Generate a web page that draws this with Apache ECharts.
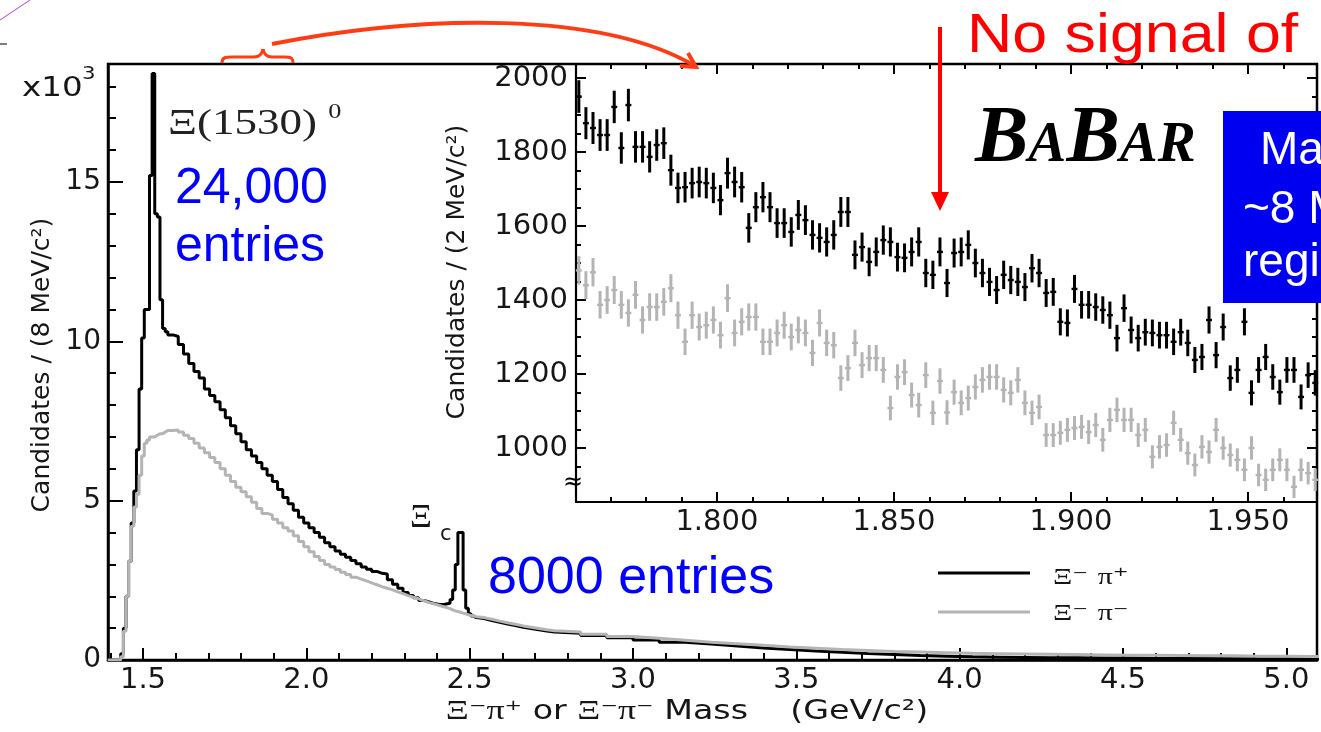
<!DOCTYPE html>
<html>
<head>
<meta charset="utf-8">
<script src="https://cdn.jsdelivr.net/npm/echarts@6/dist/echarts.min.js"></script>
<style>
  html, body { margin: 0; padding: 0; background: #ffffff; }
  #chart { width: 1321px; height: 732px; }
</style>
</head>
<body>
<div id="chart"></div>
<script>
// ---- Main spectrum: bin low edges (GeV/c^2) and contents (x10^3 candidates / 8 MeV) ----
const mainBinEdges = [
  1.392,
  1.424,1.432,1.440,1.448,1.456,1.464,1.472,1.480,1.488,1.496,1.504,1.512,1.520,1.528,1.536,1.544,1.552,1.560,1.568,
  1.576,1.592,1.608,1.624,1.640,1.656,1.672,1.688,1.704,1.720,1.736,1.752,1.768,1.784,1.800,1.816,1.832,1.848,1.864,1.880,
  1.896,1.912,1.928,1.944,1.960,1.976,1.992,2.008,2.024,2.040,2.056,2.072,2.088,2.104,2.120,2.136,2.152,2.168,2.184,2.200,
  2.216,2.232,2.248,2.264,2.280,2.296,2.312,2.328,2.344,2.360,2.376,2.392,2.408,2.424,
  2.440,2.448,2.456,2.464,2.472,2.480,2.488,2.496,2.504,2.512,
  2.520,2.544,2.568,2.592,2.616,2.640,2.664,2.688,2.712,2.736,
  2.760,2.840,2.920,3.000,3.080,3.160,3.240,3.320,3.400,3.480,3.560,3.640,3.720,3.800,3.880,
  3.960,4.040,4.120,4.200,4.280,4.360,4.440,4.520,4.600,4.680,4.760,4.840,4.920,5.000,5.080
];
const mainUpperEdge = 5.12;

// Xi- pi+ (right-sign) candidates
const xiPiPlus = [
  0,
  0,0.2,1.0,2.0,3.1,4.3,5.3,6.6,8.5,10.1,11.0,11.0,15.2,18.4,14.0,13.9,11.3,10.4,10.3,
  10.2,10.15,9.9,9.6,9.3,9.05,8.85,8.5,8.3,8.1,7.85,7.6,7.35,7.1,6.85,6.6,6.4,6.2,6.0,5.8,
  5.6,5.35,5.1,4.9,4.7,4.48,4.3,4.15,4.0,3.85,3.68,3.55,3.42,3.32,3.22,3.12,3.02,2.92,2.85,2.78,
  2.72,2.7,2.52,2.38,2.25,2.12,2.02,1.95,1.87,1.82,1.77,1.74,1.75,1.78,
  1.9,2.2,3.0,4.0,4.0,2.2,1.62,1.45,1.38,1.33,
  1.3,1.24,1.18,1.13,1.08,1.03,0.99,0.95,0.91,0.88,
  0.84,0.77,0.7,0.63,0.56,0.5,0.44,0.38,0.33,0.28,0.24,0.2,0.17,0.14,0.12,
  0.1,0.09,0.08,0.07,0.07,0.06,0.06,0.05,0.05,0.05,0.04,0.04,0.04,0.03,0.03
];

// Xi- pi- (wrong-sign) candidates
const xiPiMinus = [
  0,
  0,0.1,0.9,2.0,3.1,4.2,4.8,5.2,5.8,6.4,6.8,6.9,7.0,7.0,7.05,7.1,7.1,7.15,7.2,
  7.2,7.22,7.15,7.05,6.95,6.8,6.65,6.5,6.35,6.2,6.0,5.8,5.6,5.42,5.28,5.12,4.95,4.75,4.6,4.55,
  4.42,4.3,4.15,4.05,3.9,3.72,3.55,3.4,3.25,3.12,3.0,2.92,2.84,2.75,2.68,2.6,2.54,2.48,2.42,2.36,
  2.3,2.25,2.2,2.14,2.08,2.02,1.97,1.92,1.86,1.8,1.76,1.71,1.66,1.61,
  1.57,1.54,1.52,1.5,1.47,1.45,1.42,1.4,1.38,1.36,
  1.33,1.28,1.22,1.17,1.12,1.07,1.03,0.99,0.95,0.92,
  0.88,0.81,0.74,0.68,0.62,0.56,0.51,0.46,0.41,0.37,0.33,0.3,0.27,0.25,0.23,
  0.21,0.2,0.19,0.18,0.17,0.16,0.15,0.15,0.14,0.13,0.13,0.12,0.12,0.11,0.11
];

// ---- Inset: 2 MeV bins from 1.760 GeV/c^2 (candidates per bin) ----
const insetBinStart = 1.760;
const insetBinWidth = 0.002;
const insetXiPiPlus = [
  1950,1878,1865,1846,1846,1922,1811,1927,1814,1814,
  1787,1819,1824,1751,1703,1705,1716,1719,1716,1703,
  1670,1743,1719,1705,1595,1651,1678,1651,1608,1608,
  1584,1630,1616,1576,1568,1557,1576,1638,1638,1522,
  1543,1503,1530,1562,1557,1516,1514,1530,1557,1473,
  1468,1530,1446,1527,1530,1549,1500,1473,1449,1427,
  1468,1454,1449,1435,1486,1473,1419,1422,1341,1338,
  1430,1387,1387,1381,1373,1359,1297,1378,1319,1297,
  1313,1311,1305,1305,1287,1313,1284,1238,1246,1346,
  1251,1327,1189,1211,1341,1149,1211,1246,1192,1151,
  1211,1211,1138,1197,1176
];
const insetXiPiMinus = [
  1480,1440,1475,1387,1400,1427,1387,1365,1414,1346,
  1381,1381,1395,1432,1359,1287,1359,1327,1332,1346,
  1305,1405,1311,1341,1354,1354,1287,1287,1311,1332,
  1300,1319,1311,1257,1338,1284,1278,1189,1216,1284,
  1224,1243,1243,1211,1108,1192,1205,1143,1116,1197,
  1095,1181,1096,1151,1122,1135,1165,1184,1192,1192,
  1157,1149,1184,1122,1095,1111,1035,1035,1041,1049,
  1054,1057,1043,1062,1022,1076,1103,1076,1076,1035,
  1049,976,1003,1008,1068,1022,986,954,1003,989,
  1049,1000,981,968,941,1000,927,914,941,968,
  941,895,941,932,914
];

// ---- Tick labels ----
const mainXLabels = [1.5, 2.0, 2.5, 3.0, 3.5, 4.0, 4.5, 5.0];
const mainYLabels = [0, 5, 10, 15];
const insetXLabels = [1.80, 1.85, 1.90, 1.95];
const insetYLabels = [1000, 1200, 1400, 1600, 1800, 2000];

// minor tick positions
const mainXMinor = [];
for (let k = 14; k <= 51; k++) mainXMinor.push(k / 10);
const mainYMinor = [];
for (let k = 0; k <= 18; k++) mainYMinor.push(k);
const insetXMinor = [];
for (let k = 176; k <= 197; k++) insetXMinor.push(k / 100);
const insetYMinor = [];
for (let k = 950; k <= 2000; k += 50) insetYMinor.push(k);

// ---- Build series data ----
function stepData(edges, vals, upper) {
  const n = Math.min(edges.length, vals.length);
  const out = [];
  for (let i = 0; i < n; i++) out.push([edges[i], vals[i]]);
  out.push([upper, vals[n - 1]]);
  return out;
}
function pointData(vals) {
  return vals.map((v, i) => [insetBinStart + (i + 0.5) * insetBinWidth, v]);
}

const INK = '#161616';
const GREY = '#b4b4b4';

// statistical error bar (sqrt N) with a short horizontal mark at the bin content
function errorBars(color) {
  return function (params, api) {
    const m = api.value(0), n = api.value(1), e = Math.sqrt(n);
    const top = api.coord([m, n + e]);
    const bot = api.coord([m, n - e]);
    const l = api.coord([m - insetBinWidth * 0.42, n]);
    const r = api.coord([m + insetBinWidth * 0.42, n]);
    return {
      type: 'group',
      children: [
        { type: 'line', shape: { x1: top[0], y1: top[1], x2: bot[0], y2: bot[1] },
          style: { stroke: color, lineWidth: 3 } },
        { type: 'line', shape: { x1: l[0], y1: l[1], x2: r[0], y2: r[1] },
          style: { stroke: color, lineWidth: 2.4 } }
      ]
    };
  };
}

const tickFont = { fontFamily: 'DejaVu Sans', color: INK };

function valueAxis(extra) {
  return Object.assign({
    type: 'value',
    splitLine: { show: false },
    axisLine: { show: false, onZero: false },
    axisTick: { show: false },
    axisLabel: { show: false }
  }, extra);
}

const MAIN_X = { min: 1.3929, max: 5.094 };
const MAIN_Y = { min: 0, max: 18.7 };
const INS_X = { min: 1.7602, max: 1.9695 };
const INS_Y = { min: 854, max: 2038 };

const xAxes = [
  // main, major
  valueAxis(Object.assign({ gridIndex: 0, position: 'bottom',
    axisLine: { show: true, onZero: false, lineStyle: { color: '#000', width: 2.5 } },
    axisTick: { show: true, inside: true, length: 12, customValues: mainXLabels, lineStyle: { color: '#000', width: 2 } },
    axisLabel: { show: true, customValues: mainXLabels, formatter: v => Number(v).toFixed(1),
      fontSize: 29, margin: 6, ...tickFont } }, MAIN_X)),
  // main, minor
  valueAxis(Object.assign({ gridIndex: 0, position: 'bottom',
    axisTick: { show: true, inside: true, length: 7, customValues: mainXMinor, lineStyle: { color: '#000', width: 2 } } }, MAIN_X)),
  // inset bottom, major
  valueAxis(Object.assign({ gridIndex: 1, position: 'bottom',
    axisLine: { show: true, onZero: false, lineStyle: { color: '#000', width: 2.2 } },
    axisTick: { show: true, inside: true, length: 10, customValues: insetXLabels, lineStyle: { color: '#000', width: 2 } },
    axisLabel: { show: true, customValues: insetXLabels, formatter: v => Number(v).toFixed(3),
      fontSize: 29, margin: 6, ...tickFont } }, INS_X)),
  // inset bottom, minor
  valueAxis(Object.assign({ gridIndex: 1, position: 'bottom',
    axisTick: { show: true, inside: true, length: 5, customValues: insetXMinor, lineStyle: { color: '#000', width: 2 } } }, INS_X)),
  // inset top, major
  valueAxis(Object.assign({ gridIndex: 1, position: 'top',
    axisTick: { show: true, inside: true, length: 10, customValues: insetXLabels, lineStyle: { color: '#000', width: 2 } } }, INS_X)),
  // inset top, minor
  valueAxis(Object.assign({ gridIndex: 1, position: 'top',
    axisTick: { show: true, inside: true, length: 5, customValues: insetXMinor, lineStyle: { color: '#000', width: 2 } } }, INS_X))
];

const yAxes = [
  // main, major
  valueAxis(Object.assign({ gridIndex: 0, position: 'left',
    axisLine: { show: true, onZero: false, lineStyle: { color: '#000', width: 2.5 } },
    axisTick: { show: true, inside: true, length: 15, customValues: mainYLabels, lineStyle: { color: '#000', width: 2 } },
    axisLabel: { show: true, customValues: mainYLabels, formatter: v => String(v),
      fontSize: 28, margin: 7, ...tickFont } }, MAIN_Y)),
  // main, minor
  valueAxis(Object.assign({ gridIndex: 0, position: 'left',
    axisTick: { show: true, inside: true, length: 8, customValues: mainYMinor, lineStyle: { color: '#000', width: 2 } } }, MAIN_Y)),
  // inset left, major
  valueAxis(Object.assign({ gridIndex: 1, position: 'left',
    axisLine: { show: true, onZero: false, lineStyle: { color: '#000', width: 2.2 } },
    axisTick: { show: true, inside: true, length: 10, customValues: insetYLabels, lineStyle: { color: '#000', width: 2 } },
    axisLabel: { show: true, customValues: insetYLabels, formatter: v => String(Math.round(v)),
      fontSize: 29, margin: 8, ...tickFont } }, INS_Y)),
  // inset left, minor
  valueAxis(Object.assign({ gridIndex: 1, position: 'left',
    axisTick: { show: true, inside: true, length: 5, customValues: insetYMinor, lineStyle: { color: '#000', width: 2 } } }, INS_Y)),
  // inset right, major
  valueAxis(Object.assign({ gridIndex: 1, position: 'right',
    axisTick: { show: true, inside: true, length: 10, customValues: insetYLabels, lineStyle: { color: '#000', width: 2 } } }, INS_Y)),
  // inset right, minor
  valueAxis(Object.assign({ gridIndex: 1, position: 'right',
    axisTick: { show: true, inside: true, length: 5, customValues: insetYMinor, lineStyle: { color: '#000', width: 2 } } }, INS_Y))
];

// ---- Annotation helpers ----
function label(x, y, text, style, extra) {
  return Object.assign({
    type: 'text', x: x, y: y, z: 20,
    style: Object.assign({ text: text, fill: INK, fontFamily: 'DejaVu Sans', fontSize: 26,
      align: 'left', verticalAlign: 'middle' }, style)
  }, extra || {});
}
function seg(x1, y1, x2, y2, color, w) {
  return { type: 'line', z: 20, shape: { x1, y1, x2, y2 }, style: { stroke: color, lineWidth: w, lineCap: 'butt' } };
}
function curve(x1, y1, cx1, cy1, cx2, cy2, x2, y2, color, w) {
  return { type: 'bezierCurve', z: 20,
    shape: { x1, y1, cpx1: cx1, cpy1: cy1, cpx2: cx2, cpy2: cy2, x2, y2 },
    style: { stroke: color, lineWidth: w, fill: null } };
}

const serif = 'Liberation Serif';
const ORANGE = '#ff3c14';
const RED = '#ff0000';
const BLUE = '#0000ff';
const WIDE = 1.25;  // the plot lettering is set wide

const legendRich = {
  g: { fontFamily: serif, fontSize: 24, fill: INK },
  t: { fontFamily: 'DejaVu Sans', fontSize: 24, fill: INK }
};

const graphics = [
  // slide decorations at the corner
  seg(0, 20, 30, 0, '#b040c8', 1),
  seg(0, 44, 7, 44, '#555555', 1.5),

  // multiplier on the main y axis
  label(22, 89, 'x10', { fontSize: 26 }, { scaleX: WIDE }),
  label(82, 75, '3', { fontSize: 17 }, { scaleX: WIDE }),

  // axis titles
  label(42, 365, 'Candidates / (8 MeV/c²)', { fontSize: 25, align: 'center' }, { rotation: Math.PI / 2 }),
  label(457, 272, 'Candidates / (2 MeV/c²)', { fontSize: 25, align: 'center' }, { rotation: Math.PI / 2 }),
  label(687, 712, '{g|Ξ}{t|⁻}{g|π}{t|⁺}{t| or }{g|Ξ}{t|⁻}{g|π}{t|⁻}{t| Mass    (GeV/c²)}', {
    align: 'center',
    rich: {
      g: { fontFamily: serif, fontSize: 28, fill: INK },
      t: { fontFamily: 'DejaVu Sans', fontSize: 26, fill: INK }
    }
  }, { scaleX: 1.28 }),

  // resonance labels
  label(168, 125, '{a|Ξ(1530)}{s|0}', {
    rich: {
      a: { fontFamily: serif, fontSize: 36, fill: '#222', lineHeight: 46 },
      s: { fontFamily: serif, fontSize: 21, fill: '#222', verticalAlign: 'top', padding: [0, 0, 0, 9] }
    }
  }, { scaleX: WIDE }),
  label(410, 518, 'Ξ', { fontFamily: serif, fontSize: 34 }),
  label(440, 535, 'c', { fontSize: 21 }),

  // entry counts
  label(175, 189, '24,000', { fontFamily: 'Liberation Sans', fontSize: 50, fill: BLUE }),
  label(175, 247, 'entries', { fontFamily: 'Liberation Sans', fontSize: 50, fill: BLUE }),
  label(488, 579, '8000 entries', { fontFamily: 'Liberation Sans', fontSize: 52, fill: BLUE }),

  // legend
  seg(938, 573, 1030, 573, '#000', 3),
  seg(938, 612, 1030, 612, GREY, 3),
  label(1053, 578, '{g|Ξ}{t|⁻ }{g|π}{t|⁺}', { rich: legendRich }, { scaleX: WIDE }),
  label(1053, 614, '{g|Ξ}{t|⁻ }{g|π}{t|⁻}', { rich: legendRich }, { scaleX: WIDE }),

  // experiment logo
  label(975, 140, '{b|B}{a|A}{b|B}{a|AR}', {
    rich: {
      b: { fontFamily: serif, fontSize: 80, fontWeight: 'bold', fontStyle: 'italic', fill: '#000', verticalAlign: 'bottom' },
      a: { fontFamily: serif, fontSize: 57, fontWeight: 'bold', fontStyle: 'italic', fill: '#000', verticalAlign: 'bottom', padding: [0, 0, 5, 0] }
    }
  }),

  // inset axis break
  label(573, 483, '≈', { fontSize: 24, align: 'center', fill: '#000' }),

  // blue note box, running off the right edge
  { type: 'rect', z: 18, shape: { x: 1223, y: 111, width: 110, height: 192 }, style: { fill: '#0000f0' } },
  label(1260, 151, 'Mass', { fontFamily: 'Liberation Sans', fontSize: 46, fill: '#ffffff' }),
  label(1243, 210, '~8 MeV', { fontFamily: 'Liberation Sans', fontSize: 46, fill: '#ffffff' }),
  label(1243, 263, 'region', { fontFamily: 'Liberation Sans', fontSize: 46, fill: '#ffffff' }),

  // "no signal" call-out
  label(967, 37, 'No signal of', { fontFamily: 'Liberation Sans', fontSize: 56, fill: RED }, { scaleX: 1.12 }),
  seg(940, 27, 940, 195, RED, 4),
  { type: 'polygon', z: 20, shape: { points: [[931, 192], [949, 192], [940, 211]] }, style: { fill: RED } },

  // brace over the zoomed mass range
  curve(222, 63, 222, 57, 226, 57, 232, 57, ORANGE, 3),
  seg(232, 57, 254, 57, ORANGE, 3),
  curve(254, 57, 259, 57, 262, 55, 263, 49, ORANGE, 3),
  curve(263, 49, 264, 55, 267, 57, 272, 57, ORANGE, 3),
  seg(272, 57, 284, 57, ORANGE, 3),
  curve(284, 57, 290, 57, 293, 57, 293, 63, ORANGE, 3),
  // curved arrow into the inset
  curve(272, 44, 420, 15, 600, 10, 695, 66, ORANGE, 4),
  { type: 'polyline', z: 20, shape: { points: [[680, 66], [696, 67], [688, 53]] },
    style: { stroke: ORANGE, lineWidth: 4, fill: null } }
];

const chart = echarts.init(document.getElementById('chart'), null, { renderer: 'canvas' });
chart.setOption({
  animation: false,
  backgroundColor: '#ffffff',
  grid: [
    { left: 108, top: 64, width: 1209, height: 596, show: true, borderColor: '#000', borderWidth: 2.5,
      backgroundColor: 'transparent' },
    { left: 576, top: 64, width: 741, height: 438, show: false }
  ],
  xAxis: xAxes,
  yAxis: yAxes,
  series: [
    { name: 'Ξ⁻π⁺', type: 'line', step: 'end', xAxisIndex: 0, yAxisIndex: 0,
      showSymbol: false, symbol: 'none', clip: true,
      lineStyle: { color: '#000', width: 3 }, data: stepData(mainBinEdges, xiPiPlus, mainUpperEdge), z: 3 },
    { name: 'Ξ⁻π⁻', type: 'line', step: 'end', xAxisIndex: 0, yAxisIndex: 0,
      showSymbol: false, symbol: 'none', clip: true,
      lineStyle: { color: GREY, width: 3 }, data: stepData(mainBinEdges, xiPiMinus, mainUpperEdge), z: 4 },
    { name: 'Ξ⁻π⁻ inset', type: 'custom', xAxisIndex: 2, yAxisIndex: 2,
      renderItem: errorBars(GREY), data: pointData(insetXiPiMinus), encode: { x: 0, y: 1 }, z: 5 },
    { name: 'Ξ⁻π⁺ inset', type: 'custom', xAxisIndex: 2, yAxisIndex: 2,
      renderItem: errorBars('#000'), data: pointData(insetXiPiPlus), encode: { x: 0, y: 1 }, z: 6 }
  ],
  graphic: graphics
});
</script>
</body>
</html>
